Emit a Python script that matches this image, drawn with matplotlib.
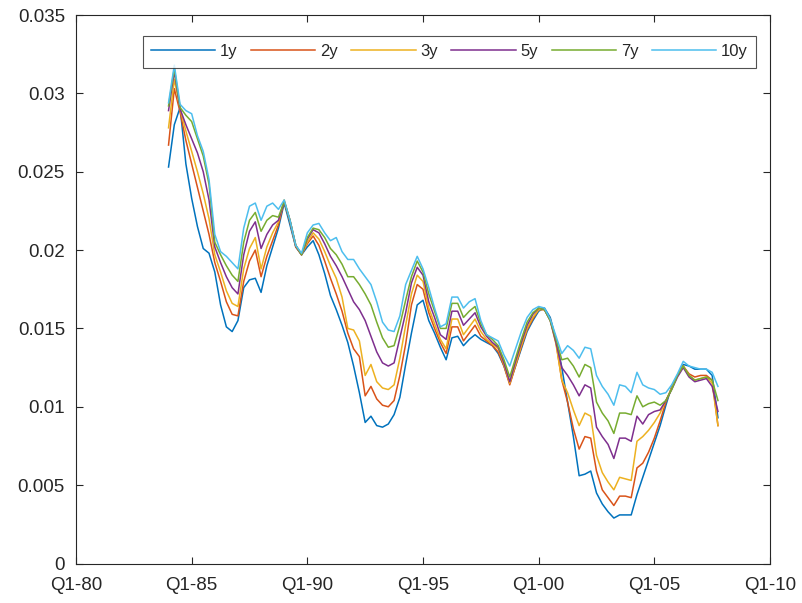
import numpy as np
import pandas as pd
import matplotlib
matplotlib.use('Agg')
import matplotlib.pyplot as plt
from matplotlib.ticker import FormatStrFormatter

# quarterly sample, 1984Q1 .. 2007Q4
quarters = pd.period_range('1984Q1', '2007Q4', freq='Q')

y1 = [0.0253, 0.0280, 0.0291, 0.0255, 0.0233, 0.0215, 0.0201, 0.0198, 0.0186, 0.0165,
      0.0151, 0.0148, 0.0155, 0.0176, 0.0181, 0.0182, 0.0173, 0.0190, 0.0202, 0.0214,
      0.0230, 0.0216, 0.0202, 0.0197, 0.0202, 0.0206, 0.0197, 0.0185, 0.0171, 0.0162,
      0.0152, 0.0141, 0.0126, 0.0109, 0.0090, 0.0094, 0.0088, 0.0087, 0.0089, 0.0095,
      0.0106, 0.0127, 0.0147, 0.0165, 0.0168, 0.0155, 0.0147, 0.0138, 0.0130, 0.0144,
      0.0145, 0.0139, 0.0143, 0.0146, 0.0143, 0.0141, 0.0139, 0.0134, 0.0126, 0.0115,
      0.0126, 0.0137, 0.0148, 0.0155, 0.0161, 0.0163, 0.0157, 0.0143, 0.0125, 0.0103,
      0.0081, 0.0056, 0.0057, 0.0059, 0.0045, 0.0038, 0.0033, 0.0029, 0.0031, 0.0031,
      0.0031, 0.0044, 0.0055, 0.0066, 0.0077, 0.0088, 0.0101, 0.0113, 0.0120, 0.0127,
      0.0126, 0.0124, 0.0124, 0.0124, 0.0120, 0.0093]

y2 = [0.0267, 0.0303, 0.0288, 0.0270, 0.0255, 0.0240, 0.0225, 0.0210, 0.0192, 0.0180,
      0.0167, 0.0159, 0.0158, 0.0180, 0.0193, 0.0200, 0.0183, 0.0196, 0.0206, 0.0216,
      0.0231, 0.0218, 0.0202, 0.0197, 0.0204, 0.0209, 0.0203, 0.0193, 0.0182, 0.0172,
      0.0161, 0.0147, 0.0137, 0.0132, 0.0107, 0.0113, 0.0105, 0.0101, 0.0100, 0.0104,
      0.0120, 0.0140, 0.0165, 0.0178, 0.0175, 0.0160, 0.0150, 0.0141, 0.0134, 0.0151,
      0.0151, 0.0142, 0.0147, 0.0152, 0.0145, 0.0142, 0.0139, 0.0135, 0.0126, 0.0114,
      0.0126, 0.0138, 0.0149, 0.0156, 0.0162, 0.0162, 0.0156, 0.0141, 0.0117, 0.0103,
      0.0086, 0.0073, 0.0081, 0.0080, 0.0059, 0.0047, 0.0042, 0.0037, 0.0043, 0.0043,
      0.0042, 0.0061, 0.0064, 0.0071, 0.0080, 0.0091, 0.0103, 0.0112, 0.0120, 0.0126,
      0.0121, 0.0119, 0.0120, 0.0120, 0.0117, 0.0088]

y3 = [0.0278, 0.0309, 0.0290, 0.0276, 0.0263, 0.0250, 0.0236, 0.0220, 0.0197, 0.0186,
      0.0174, 0.0166, 0.0164, 0.0188, 0.0201, 0.0208, 0.0188, 0.0202, 0.0211, 0.0218,
      0.0232, 0.0219, 0.0203, 0.0197, 0.0205, 0.0211, 0.0207, 0.0199, 0.0190, 0.0182,
      0.0170, 0.0150, 0.0149, 0.0142, 0.0120, 0.0127, 0.0116, 0.0112, 0.0111, 0.0114,
      0.0131, 0.0152, 0.0172, 0.0184, 0.0180, 0.0163, 0.0153, 0.0143, 0.0137, 0.0156,
      0.0156, 0.0146, 0.0151, 0.0156, 0.0148, 0.0143, 0.0140, 0.0137, 0.0127, 0.0115,
      0.0127, 0.0139, 0.0150, 0.0157, 0.0162, 0.0162, 0.0155, 0.0140, 0.0117, 0.0109,
      0.0098, 0.0088, 0.0096, 0.0094, 0.0069, 0.0058, 0.0052, 0.0047, 0.0055, 0.0054,
      0.0053, 0.0078, 0.0081, 0.0085, 0.0090, 0.0096, 0.0104, 0.0112, 0.0120, 0.0126,
      0.0120, 0.0117, 0.0118, 0.0119, 0.0115, 0.0088]

y5 = [0.0289, 0.0314, 0.0290, 0.0280, 0.0271, 0.0262, 0.0250, 0.0232, 0.0202, 0.0192,
      0.0183, 0.0176, 0.0172, 0.0197, 0.0212, 0.0218, 0.0201, 0.0210, 0.0216, 0.0219,
      0.0231, 0.0219, 0.0203, 0.0197, 0.0207, 0.0213, 0.0211, 0.0204, 0.0196, 0.0190,
      0.0183, 0.0175, 0.0167, 0.0162, 0.0155, 0.0145, 0.0135, 0.0128, 0.0126, 0.0128,
      0.0144, 0.0160, 0.0179, 0.0189, 0.0184, 0.0167, 0.0157, 0.0146, 0.0143, 0.0161,
      0.0161, 0.0152, 0.0156, 0.0160, 0.0151, 0.0145, 0.0141, 0.0138, 0.0128, 0.0116,
      0.0129, 0.0141, 0.0152, 0.0159, 0.0163, 0.0162, 0.0155, 0.0141, 0.0125, 0.0120,
      0.0114, 0.0107, 0.0114, 0.0112, 0.0087, 0.0081, 0.0076, 0.0067, 0.0080, 0.0080,
      0.0078, 0.0094, 0.0089, 0.0095, 0.0097, 0.0098, 0.0104, 0.0111, 0.0119, 0.0125,
      0.0119, 0.0116, 0.0117, 0.0118, 0.0113, 0.0097]

y7 = [0.0292, 0.0316, 0.0291, 0.0286, 0.0282, 0.0271, 0.0260, 0.0242, 0.0205, 0.0197,
      0.0190, 0.0184, 0.0180, 0.0205, 0.0219, 0.0224, 0.0212, 0.0219, 0.0222, 0.0221,
      0.0231, 0.0219, 0.0203, 0.0197, 0.0208, 0.0214, 0.0213, 0.0208, 0.0201, 0.0197,
      0.0191, 0.0183, 0.0183, 0.0178, 0.0172, 0.0165, 0.0154, 0.0144, 0.0138, 0.0139,
      0.0152, 0.0168, 0.0183, 0.0193, 0.0186, 0.0172, 0.0161, 0.0150, 0.0150, 0.0166,
      0.0166, 0.0157, 0.0161, 0.0164, 0.0153, 0.0146, 0.0143, 0.0139, 0.0130, 0.0119,
      0.0131, 0.0143, 0.0154, 0.0160, 0.0163, 0.0162, 0.0155, 0.0143, 0.0130, 0.0131,
      0.0126, 0.0119, 0.0127, 0.0125, 0.0103, 0.0096, 0.0091, 0.0083, 0.0096, 0.0096,
      0.0095, 0.0107, 0.0100, 0.0102, 0.0103, 0.0101, 0.0104, 0.0111, 0.0120, 0.0126,
      0.0120, 0.0117, 0.0118, 0.0119, 0.0117, 0.0104]

y10 = [0.0294, 0.0318, 0.0293, 0.0289, 0.0287, 0.0273, 0.0263, 0.0245, 0.0210, 0.0199,
       0.0196, 0.0192, 0.0188, 0.0214, 0.0228, 0.0230, 0.0219, 0.0228, 0.0230, 0.0226,
       0.0232, 0.0219, 0.0203, 0.0198, 0.0211, 0.0216, 0.0217, 0.0211, 0.0206, 0.0208,
       0.0199, 0.0194, 0.0194, 0.0188, 0.0183, 0.0178, 0.0167, 0.0154, 0.0149, 0.0148,
       0.0158, 0.0178, 0.0187, 0.0196, 0.0188, 0.0176, 0.0163, 0.0151, 0.0153, 0.0170,
       0.0170, 0.0163, 0.0167, 0.0169, 0.0155, 0.0146, 0.0144, 0.0142, 0.0133, 0.0126,
       0.0137, 0.0148, 0.0157, 0.0162, 0.0164, 0.0163, 0.0156, 0.0145, 0.0134, 0.0139,
       0.0136, 0.0131, 0.0138, 0.0137, 0.0120, 0.0113, 0.0108, 0.0101, 0.0114, 0.0113,
       0.0109, 0.0122, 0.0114, 0.0112, 0.0111, 0.0108, 0.0109, 0.0114, 0.0121, 0.0129,
       0.0126, 0.0125, 0.0124, 0.0124, 0.0122, 0.0113]

labels = ['1y', '2y', '3y', '5y', '7y', '10y']
xtick_years = [1980, 1985, 1990, 1995, 2000, 2005, 2010]
xtick_labels = ['Q1-80', 'Q1-85', 'Q1-90', 'Q1-95', 'Q1-00', 'Q1-05', 'Q1-10']

# matlab default line colours
colors = ['#0072BD', '#D95319', '#EDB120', '#7E2F8E', '#77AC30', '#4DBEEE']
ink = '#262626'

plt.rcParams['font.family'] = ['Liberation Sans', 'DejaVu Sans']
plt.rcParams['font.size'] = 13.5

t = quarters.year + (quarters.quarter - 1) / 4.0

fig = plt.figure(figsize=(8.03, 6.03), dpi=100)
ax = fig.add_axes([76/803, 39.5/603, 694/803, 548.5/603])

for y, lab, c in zip([y1, y2, y3, y5, y7, y10], labels, colors):
    ax.plot(t, y, '-', color=c, lw=1.1, label=lab)

ax.set_xlim(1980, 2010)
ax.set_ylim(0, 0.035)
ax.set_xticks(xtick_years)
ax.set_xticklabels(xtick_labels)
ax.set_yticks(np.arange(0, 0.0351, 0.005))
ax.yaxis.set_major_formatter(FormatStrFormatter('%g'))

ax.tick_params(direction='in', length=5, width=0.8, colors=ink, labelsize=13.5,
               top=True, right=True)
ax.tick_params(axis='y', pad=8)
ax.tick_params(axis='x', pad=10)
for s in ax.spines.values():
    s.set_color(ink)
    s.set_linewidth(0.8)

leg = ax.legend(loc='upper center', bbox_to_anchor=(0.538, 0.962), ncol=6,
                frameon=True, fancybox=False, handlelength=3.85, handletextpad=0.3,
                columnspacing=0.8, borderpad=0.5, borderaxespad=0, fontsize=12)
leg.get_frame().set_edgecolor(ink)
leg.get_frame().set_linewidth(0.8)
for txt in leg.get_texts():
    txt.set_color(ink)

plt.savefig('out.png', dpi=100)
